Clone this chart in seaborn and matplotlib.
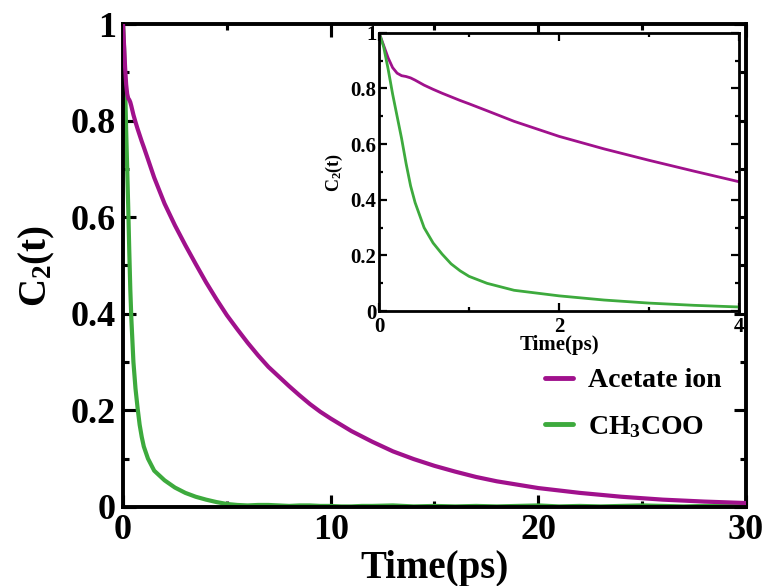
import numpy as np
import pandas as pd
import matplotlib
matplotlib.use("Agg")
import matplotlib.pyplot as plt
import seaborn as sns

# short-time data (0-4 ps)
t_short = [0, 0.05, 0.1, 0.15, 0.2, 0.25, 0.3, 0.35, 0.4, 0.5, 0.6, 0.7, 0.8,
           0.9, 1.0, 1.2, 1.5, 2.0, 2.5, 3.0, 3.5, 4.0]
acetate_short = [1.0, 0.955, 0.91, 0.875, 0.855, 0.846, 0.843, 0.838, 0.83, 0.812,
                 0.797, 0.783, 0.77, 0.757, 0.745, 0.72, 0.682, 0.628, 0.583, 0.542,
                 0.503, 0.465]
ch3coo_short = [1.0, 0.95, 0.87, 0.78, 0.70, 0.62, 0.53, 0.45, 0.39, 0.30, 0.245,
                0.205, 0.17, 0.145, 0.125, 0.10, 0.075, 0.055, 0.04, 0.029, 0.021, 0.015]

# long-time data (beyond 4 ps)
t_long = [4.5, 5, 5.5, 6, 6.5, 7, 7.5, 8, 8.5, 9, 9.5, 10, 10.5, 11, 11.5, 12, 13,
          14, 15, 16, 17, 18, 19, 20, 21, 22, 23, 24, 25, 26, 27, 28, 29, 30]
acetate_long = [0.43, 0.397, 0.368, 0.34, 0.314, 0.29, 0.27, 0.25, 0.231, 0.213,
                0.197, 0.183, 0.17, 0.157, 0.146, 0.135, 0.115, 0.099, 0.085, 0.073,
                0.062, 0.053, 0.046, 0.039, 0.034, 0.029, 0.025, 0.021, 0.018, 0.015,
                0.013, 0.011, 0.0095, 0.008]
ch3coo_long = [0.01, 0.006, 0.004, 0.003, 0.004, 0.004, 0.003, 0.002, 0.003, 0.003,
               0.002, 0.002, 0.001, 0.001, 0.002, 0.002, 0.003, 0.001, 0.002, 0.001,
               0.002, 0.001, 0.002, 0.003, 0.001, 0.002, 0.001, 0.002, 0.003, 0.002,
               0.001, 0.002, 0.002, 0.001]

series_names = ["Acetate ion", "CH$_3$COO"]
colors = ["#a0118c", "#3daa3d"]

y_ticks = [0, 0.2, 0.4, 0.6, 0.8, 1.0]
y_ticklabels = ["0", "0.2", "0.4", "0.6", "0.8", "1"]
main_x_ticks = [0, 10, 20, 30]
inset_x_ticks = [0, 2, 4]

sns.set_theme(style="ticks")
plt.rcParams["font.family"] = ["Liberation Serif", "DejaVu Serif"]
plt.rcParams["font.weight"] = "bold"
plt.rcParams["mathtext.fontset"] = "custom"
plt.rcParams["mathtext.rm"] = "Liberation Serif:bold"
plt.rcParams["mathtext.it"] = "Liberation Serif:bold"
plt.rcParams["mathtext.bf"] = "Liberation Serif:bold"
for key in ["text.color", "axes.labelcolor", "xtick.color", "ytick.color", "axes.edgecolor"]:
    plt.rcParams[key] = "black"

short = pd.DataFrame({"t": t_short, series_names[0]: acetate_short, series_names[1]: ch3coo_short})
full = pd.DataFrame({"t": t_short + t_long,
                     series_names[0]: acetate_short + acetate_long,
                     series_names[1]: ch3coo_short + ch3coo_long})


def style_axes(ax, lw, major, minor, size, pad):
    for s in ax.spines.values():
        s.set_linewidth(lw)
        s.set_color("black")
    ax.tick_params(which="both", direction="in", top=True, right=True,
                   width=lw * 0.8, color="black")
    ax.tick_params(which="major", length=major, labelsize=size, pad=pad)
    ax.tick_params(which="minor", length=minor)
    ax.set_yticks(y_ticks)
    ax.set_yticklabels(y_ticklabels)
    ax.set_yticks(np.arange(0.1, 1.0, 0.2), minor=True)
    ax.set_ylim(0, 1)


fig = plt.figure(figsize=(7.69, 5.86), dpi=100)
ax = fig.add_axes([0.160, 0.135, 0.810, 0.824])

for name, c, z in zip(series_names, colors, [3, 2]):
    sns.lineplot(data=full, x="t", y=name, color=c, lw=3.0, ax=ax, zorder=z,
                 label=name, estimator=None)
ax.set_xlim(0, 30)
style_axes(ax, 2.8, 9, 4, 26, 5)
ax.set_xticks(main_x_ticks)
ax.set_xticks([5, 15, 25], minor=True)
ax.set_xlabel("Time(ps)", fontsize=28, fontweight="bold", labelpad=2)
ax.set_ylabel("C$_2$(t)", fontsize=28, fontweight="bold", labelpad=10)

leg = ax.legend(loc="upper left", bbox_to_anchor=(545 / 769, 1 - 368 / 586),
                bbox_transform=fig.transFigure, frameon=False, fontsize=20,
                handlelength=1.0, handletextpad=0.55, labelspacing=0.75,
                borderpad=0, borderaxespad=0)
for line in leg.get_lines():
    line.set_linewidth(3.5)

# inset
axi = fig.add_axes([0.493, 0.469, 0.468, 0.475])
for name, c in zip(series_names, colors):
    sns.lineplot(data=short, x="t", y=name, color=c, lw=2.0, ax=axi,
                 legend=False, estimator=None)
axi.set_xlim(0, 4)
style_axes(axi, 2.0, 6, 3, 15, 2)
axi.tick_params(axis="x", which="major", pad=4)
axi.set_xticks(inset_x_ticks)
axi.set_xticks([1, 3], minor=True)
axi.set_xlabel("Time(ps)", fontsize=15, fontweight="bold", labelpad=-1)
axi.set_ylabel("C$_2$(t)", fontsize=13, fontweight="bold", labelpad=4)

fig.savefig("out.png", dpi=100)
